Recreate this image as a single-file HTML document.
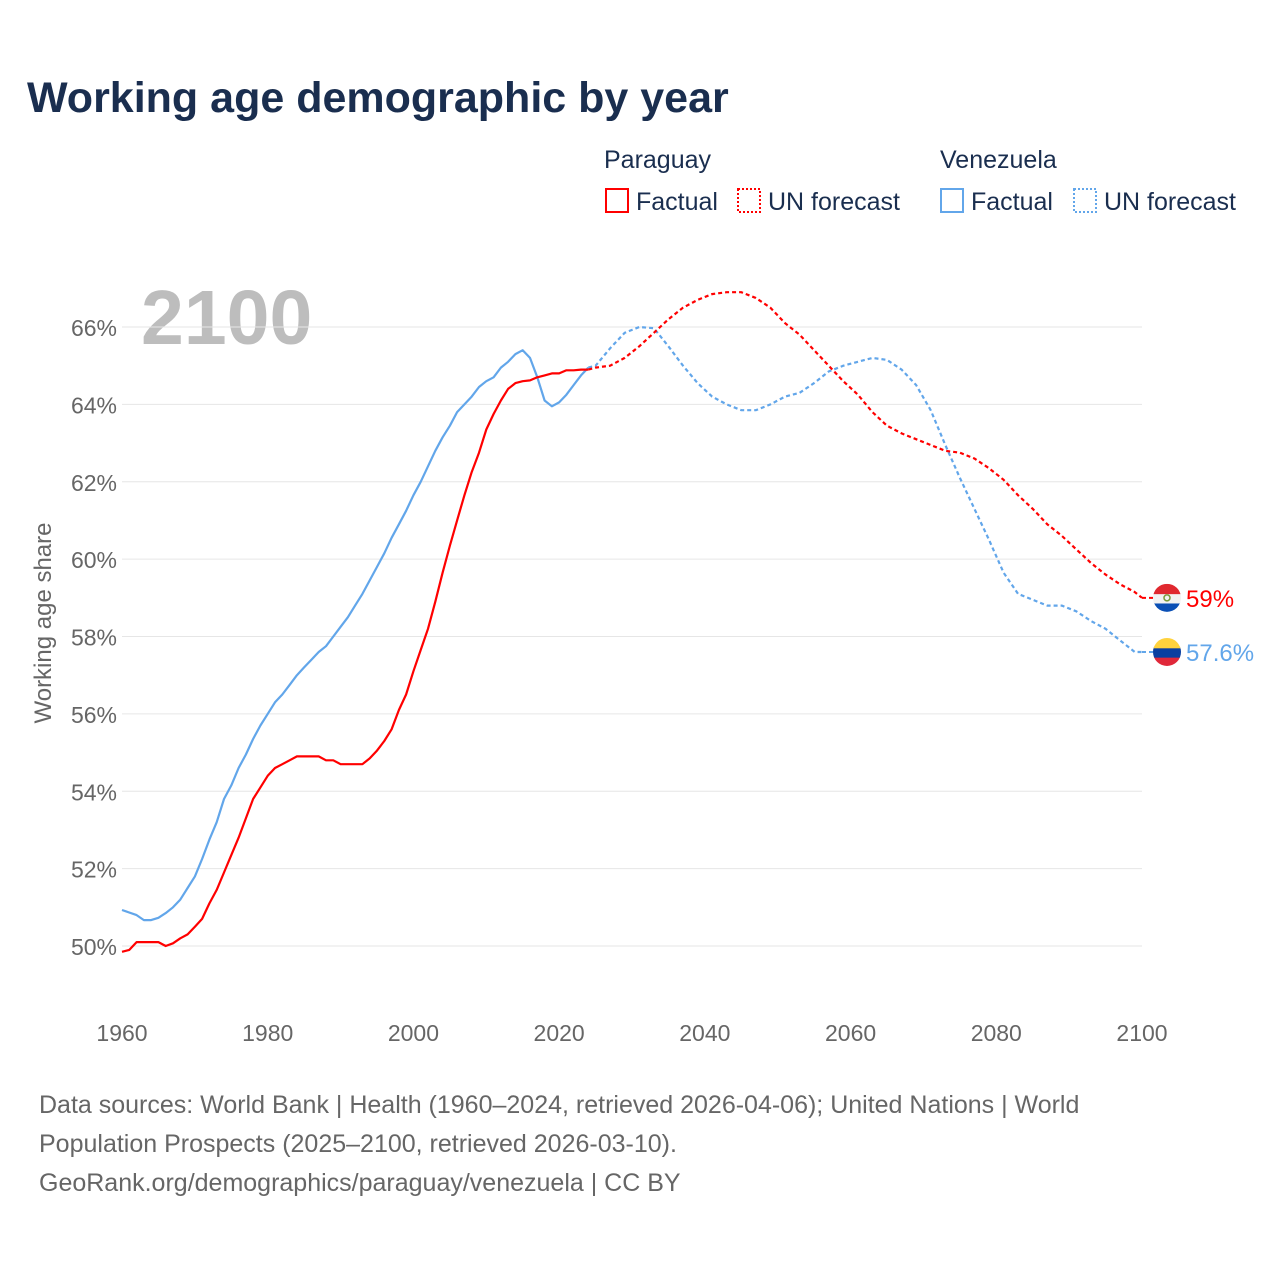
<!DOCTYPE html>
<html><head><meta charset="utf-8"><style>
body{margin:0;background:#fff;font-family:"Liberation Sans",sans-serif;}
#wrap{position:relative;width:1280px;height:1280px;overflow:hidden;}
</style></head><body>
<div id="wrap">
<svg id="chart" width="1280" height="1280" style="position:absolute;left:0;top:0;font-family:'Liberation Sans',sans-serif;">
<text x="27" y="112" font-size="43" font-weight="bold" fill="#1a2e4f">Working age demographic by year</text>
<g font-size="25" fill="#1a2e4f">
<text x="604" y="168">Paraguay</text>
<text x="940" y="168">Venezuela</text>
<g><rect x="606" y="189" width="22" height="23" fill="none" stroke="#f00" stroke-width="2"/><text x="636" y="210">Factual</text></g>
<g><rect x="738" y="189" width="22" height="23" fill="none" stroke="#f00" stroke-width="2" stroke-dasharray="2,2"/><text x="768" y="210">UN forecast</text></g>
<g><rect x="941" y="189" width="22" height="23" fill="none" stroke="#62a6ea" stroke-width="2"/><text x="971" y="210">Factual</text></g>
<g><rect x="1074" y="189" width="22" height="23" fill="none" stroke="#62a6ea" stroke-width="2" stroke-dasharray="2,2"/><text x="1104" y="210">UN forecast</text></g>
</g>
<text x="141" y="344" font-size="77" font-weight="bold" fill="#bdbdbd">2100</text>
<text transform="translate(51,623) rotate(-90)" text-anchor="middle" font-size="24" fill="#666">Working age share</text>
<g id="grid"></g><g id="series"></g><g id="ends"></g>
<g font-size="25" fill="#666">
<text x="39" y="1113">Data sources: World Bank | Health (1960–2024, retrieved 2026-04-06); United Nations | World</text>
<text x="39" y="1152">Population Prospects (2025–2100, retrieved 2026-03-10).</text>
<text x="39" y="1191">GeoRank.org/demographics/paraguay/venezuela | CC BY</text>
</g>
</svg>
</div>
<script>
const yTicks=[50,52,54,56,58,60,62,64,66];
const xTicks=[1960,1980,2000,2020,2040,2060,2080,2100];
const pyYears=[1960,1961,1962,1963,1964,1965,1966,1967,1968,1969,1970,1971,1972,1973,1974,1975,1976,1977,1978,1979,1980,1981,1982,1983,1984,1985,1986,1987,1988,1989,1990,1991,1992,1993,1994,1995,1996,1997,1998,1999,2000,2001,2002,2003,2004,2005,2006,2007,2008,2009,2010,2011,2012,2013,2014,2015,2016,2017,2018,2019,2020,2021,2022,2023,2024,2025,2027,2029,2031,2033,2035,2037,2039,2041,2043,2045,2047,2049,2051,2053,2055,2057,2059,2061,2063,2065,2067,2069,2071,2073,2075,2077,2079,2081,2083,2085,2087,2089,2091,2093,2095,2097,2099,2100];
const pyValues=[49.85,49.9,50.1,50.1,50.1,50.1,50.0,50.07,50.2,50.3,50.5,50.7,51.1,51.45,51.9,52.35,52.8,53.3,53.8,54.1,54.4,54.6,54.7,54.8,54.9,54.9,54.9,54.9,54.8,54.8,54.7,54.7,54.7,54.7,54.85,55.05,55.3,55.6,56.1,56.5,57.1,57.65,58.2,58.9,59.65,60.35,61.0,61.65,62.25,62.75,63.35,63.75,64.1,64.4,64.55,64.6,64.62,64.7,64.75,64.8,64.8,64.88,64.88,64.9,64.9,64.95,65.0,65.2,65.5,65.85,66.2,66.5,66.7,66.85,66.9,66.9,66.75,66.5,66.1,65.8,65.4,65.0,64.6,64.25,63.8,63.45,63.25,63.1,62.95,62.8,62.75,62.6,62.35,62.05,61.65,61.3,60.9,60.6,60.25,59.9,59.6,59.35,59.15,59.0];
const veYears=[1960,1962,1963,1964,1965,1966,1967,1968,1969,1970,1971,1972,1973,1974,1975,1976,1977,1978,1979,1980,1981,1982,1983,1984,1985,1986,1987,1988,1989,1990,1991,1992,1993,1994,1995,1996,1997,1998,1999,2000,2001,2002,2003,2004,2005,2006,2007,2008,2009,2010,2011,2012,2013,2014,2015,2016,2017,2018,2019,2020,2021,2022,2023,2024,2025,2027,2029,2031,2033,2035,2037,2039,2041,2043,2045,2047,2049,2051,2053,2055,2057,2059,2061,2063,2065,2067,2069,2071,2073,2075,2077,2079,2081,2083,2085,2087,2089,2091,2093,2095,2097,2099,2100];
const veValues=[50.93,50.8,50.67,50.67,50.73,50.85,51.0,51.2,51.5,51.8,52.25,52.75,53.2,53.8,54.15,54.6,54.95,55.35,55.7,56.0,56.3,56.5,56.75,57.0,57.2,57.4,57.6,57.75,58.0,58.25,58.5,58.8,59.1,59.45,59.8,60.15,60.55,60.9,61.25,61.65,62.0,62.4,62.8,63.15,63.45,63.8,64.0,64.2,64.45,64.6,64.7,64.95,65.1,65.3,65.4,65.2,64.7,64.1,63.95,64.05,64.25,64.5,64.75,64.95,65.0,65.45,65.85,66.0,65.97,65.5,65.0,64.55,64.2,64.0,63.85,63.85,64.0,64.2,64.3,64.55,64.85,65.0,65.1,65.2,65.15,64.9,64.5,63.85,62.95,62.1,61.3,60.5,59.65,59.1,58.95,58.8,58.8,58.65,58.4,58.2,57.9,57.6,57.6];
const lastFactual=2024;
const NS="http://www.w3.org/2000/svg";
const X=y=>122+(y-1960)*(1020/140);
const Y=v=>946-(v-50)*(619/16);
function mk(tag,attrs,parent){const e=document.createElementNS(NS,tag);for(const k in attrs)e.setAttribute(k,attrs[k]);parent.appendChild(e);return e;}
const grid=document.getElementById('grid');
yTicks.forEach(t=>{
 const l=mk('line',{x1:122,x2:1142,y1:Y(t),y2:Y(t),stroke:'#e6e6e6','stroke-width':1},grid);
 
 
 const tx=mk('text',{x:117,y:Y(t)+9,'text-anchor':'end','font-size':23,fill:'#666'},grid);
 tx.textContent=t+'%';
 
 
});
xTicks.forEach(t=>{
 const tx=mk('text',{x:X(t),y:1041,'text-anchor':'middle','font-size':23,fill:'#666'},grid);
 tx.textContent=t;
 
 
});
const ser=document.getElementById('series');
function draw(years,vals,color,name){
 const f=[],p=[];
 years.forEach((yr,i)=>{const pt=X(yr).toFixed(1)+','+Y(vals[i]).toFixed(1);if(yr<=lastFactual)f.push(pt);if(yr>=lastFactual)p.push(pt);});
 const a=mk('polyline',{points:f.join(' '),fill:'none',stroke:color,'stroke-width':2.2,'stroke-linejoin':'round'},ser);
 
 
 const b=mk('polyline',{points:p.join(' '),fill:'none',stroke:color,'stroke-width':2.2,'stroke-dasharray':'4,3'},ser);
 
 
}
draw(veYears,veValues,'#62a6ea','venezuela');
draw(pyYears,pyValues,'#ff0000','paraguay');
const ends=document.getElementById('ends');
function endLabel(years,vals,color,name,flag){
 const v=vals[vals.length-1],x=X(years[years.length-1]),y=Y(v);
 const d=mk('line',{x1:x,y1:y,x2:x+12,y2:y,stroke:color,'stroke-width':2,'stroke-dasharray':'4,3'},ends);
 
 
 const g=mk('g',{},ends);
 
 
 const cx=x+25,r=14;
 const cp=mk('clipPath',{id:'c'+name},g);mk('circle',{cx:cx,cy:y,r:r},cp);
 flag.slice().reverse().forEach((c,j)=>{const i=flag.length-1-j;mk('rect',{x:cx-r,y:y-r+i*2*r/3,width:2*r,height:2*r/3+1,fill:c,'clip-path':'url(#c'+name+')'},g);});
 if(name==='paraguay')mk('circle',{cx:cx,cy:y,r:3,fill:'none',stroke:'#7a9a3a','stroke-width':1.5},g);
 const t=mk('text',{x:x+44,y:y+9,'font-size':24,fill:color},ends);
 t.textContent=(Math.round(v*10)/10)+'%';
 
 
}
endLabel(pyYears,pyValues,'#ff0000','paraguay',['#e0282f','#f2f2f2','#0a4fb5']);
endLabel(veYears,veValues,'#62a6ea','venezuela',['#ffd23d','#0a3fa0','#e0283a']);
</script>
</body></html>
